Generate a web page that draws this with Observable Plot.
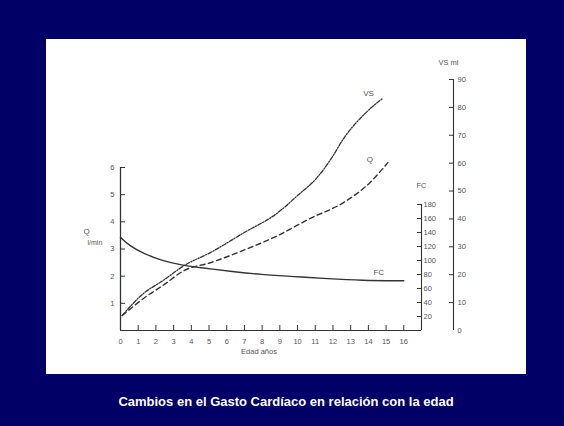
<!DOCTYPE html>
<html>
<head>
<meta charset="utf-8">
<script src="https://cdn.jsdelivr.net/npm/d3@7"></script>
<script src="https://cdn.jsdelivr.net/npm/@observablehq/plot@0.6"></script>
<style>
  html, body { margin: 0; padding: 0; }
  body { width: 564px; height: 426px; background: #000066; position: relative; overflow: hidden; }
  #panel { position: absolute; left: 46px; top: 39px; width: 480px; height: 335px; background: #ffffff; }
  #caption { position: absolute; left: 46px; width: 480px; top: 394px; line-height: 15px; text-align: center;
    color: #ffffff; font: bold 13px "Liberation Sans", Arial, sans-serif; }
</style>
</head>
<body>
<div id="panel"></div>
<div id="caption">Cambios en el Gasto Cardíaco en relación con la edad</div>
<script>
// ---- data ----
const fcAges = [0, 0.5, 1.3, 2.3, 3.5, 4.4, 5.1, 6.4, 7.9, 9.8, 11.7, 13.6, 16];
const fcValues = [133, 121, 110, 100, 93, 90, 88, 84, 80, 77, 74, 71.5, 71];          // lpm
const vsAges = [0.1, 1.3, 2.4, 3.6, 5.1, 6.9, 8.9, 10, 11.1, 11.9, 12.6, 13.7, 14.8];
const vsValues = [5.4, 13.3, 17.9, 23.3, 28, 34.8, 42.3, 48.4, 54.8, 61.6, 68.8, 77.1, 83.2]; // ml
const qAges = [0.1, 1.3, 2.4, 3.6, 5.1, 6.9, 8.9, 10.7, 12.6, 14.1, 15.1];
const qValues = [0.55, 1.18, 1.66, 2.21, 2.5, 2.94, 3.5, 4.12, 4.71, 5.45, 6.18];     // l/min

const xTickValues = d3.range(0, 17);        // 0..16 años
const qTickValues = [1, 2, 3, 4, 5, 6];
const fcTickValues = [20, 40, 60, 80, 100, 120, 140, 160, 180];
const vsTickValues = [0, 10, 20, 30, 40, 50, 60, 70, 80, 90];

const xTitle = "Edad años";
const qTitle = "Q";
const qUnit = "l/min";
const fcTitle = "FC";
const vsTitle = "VS ml";
const seriesLabels = {fc: "FC", vs: "VS", q: "Q"};

// ratio between secondary axes and the Q (l/min) scale
const fcPerQ = 38.8;   // lpm per l/min unit of height
const vsPerQ = 9.74;   // ml per l/min unit of height
const xMax = 17;

const fcData = fcAges.map((a, i) => ({age: a, v: fcValues[i] / fcPerQ}));
const vsData = vsAges.map((a, i) => ({age: a, v: vsValues[i] / vsPerQ}));
const qData = qAges.map((a, i) => ({age: a, v: qValues[i]}));

const ink = "#333333";
const txt = "#555555";
const fs = 7.5;

const chart = Plot.plot({
  width: 480,
  height: 335,
  marginLeft: 74,
  marginRight: 105,
  marginTop: 128,
  marginBottom: 44,
  x: {domain: [0, xMax], axis: null},
  y: {domain: [0, 6], axis: null},
  style: {background: "transparent", fontFamily: "Liberation Sans, Arial, sans-serif", fontSize: fs + "px", color: txt},
  marks: [
    // baseline and left axis line
    Plot.ruleY([0], {stroke: ink, strokeWidth: 1.1}),
    Plot.ruleX([0], {stroke: ink, strokeWidth: 1.3}),
    // FC axis line
    Plot.ruleX([xMax], {y1: 0, y2: d3.max(fcTickValues) / fcPerQ, stroke: ink, strokeWidth: 1.1}),
    // VS axis line
    Plot.ruleX([xMax], {y1: 0, y2: d3.max(vsTickValues) / vsPerQ, stroke: ink, strokeWidth: 1.1, dx: 32}),

    // x axis: labels and upward ticks
    Plot.axisX(xTickValues, {anchor: "bottom", tickSize: 0, tickPadding: 8, label: null, fill: txt, fontSize: fs}),
    Plot.axisX(xTickValues.slice(1), {anchor: "bottom", tickSize: 5, dy: -5, tickFormat: () => "", label: null, stroke: ink}),
    Plot.text([xTitle], {frameAnchor: "bottom", dx: -12, dy: 23, fill: txt, fontSize: fs}),

    // Q axis (left)
    Plot.axisY(qTickValues, {anchor: "left", tickSize: 0, tickPadding: 6, label: null, fill: txt, fontSize: fs}),
    Plot.axisY(qTickValues, {anchor: "left", tickSize: 5, dx: 5, tickFormat: () => "", label: null, stroke: ink}),
    Plot.text([qTitle], {frameAnchor: "left", dx: -37, dy: -18, fill: txt, fontSize: fs + 0.5}),
    Plot.text([qUnit], {frameAnchor: "left", dx: -33, dy: -6, fill: txt, fontSize: fs - 0.5}),

    // FC axis (right, inner)
    Plot.axisY(fcTickValues.map(v => v / fcPerQ), {anchor: "right", tickSize: 0, tickPadding: 2,
      tickFormat: d => Math.round(d * fcPerQ), label: null, fill: txt, fontSize: fs}),
    Plot.axisY(fcTickValues.map(v => v / fcPerQ), {anchor: "right", tickSize: 5, dx: -5,
      tickFormat: () => "", label: null, stroke: ink}),
    Plot.text([fcTitle], {x: xMax, y: d3.max(fcTickValues) / fcPerQ, dy: -19, fill: txt, fontSize: fs}),

    // VS axis (right, outer)
    Plot.axisY(vsTickValues.map(v => v / vsPerQ), {anchor: "right", tickSize: 0, tickPadding: 4, dx: 32,
      tickFormat: d => Math.round(d * vsPerQ), label: null, fill: txt, fontSize: fs}),
    Plot.axisY(vsTickValues.slice(1).map(v => v / vsPerQ), {anchor: "right", tickSize: 5, dx: 27,
      tickFormat: () => "", label: null, stroke: ink}),
    Plot.text([vsTitle], {x: xMax, y: d3.max(vsTickValues) / vsPerQ, dx: 27, dy: -17, fill: txt, fontSize: fs}),

    // curves
    Plot.line(fcData, {x: "age", y: "v", stroke: ink, strokeWidth: 1.4, curve: "basis"}),
    Plot.line(vsData, {x: "age", y: "v", stroke: ink, strokeWidth: 1.3, strokeDasharray: "4,1.5,1.2,1.5", curve: "monotone-x"}),
    Plot.line(qData, {x: "age", y: "v", stroke: ink, strokeWidth: 1.4, strokeDasharray: "5,3.5", curve: "monotone-x"}),

    // curve labels
    Plot.text(fcData.slice(-1), {x: "age", y: "v", text: () => seriesLabels.fc, dx: -25, dy: -8, fill: txt, fontSize: fs + 0.5}),
    Plot.text(vsData.slice(-1), {x: "age", y: "v", text: () => seriesLabels.vs, dx: -14, dy: -5, fill: txt, fontSize: fs + 0.5}),
    Plot.text(qData.slice(-1), {x: "age", y: "v", text: () => seriesLabels.q, dx: -18, dy: -3, fill: txt, fontSize: fs + 0.5})
  ]
});
document.getElementById("panel").appendChild(chart);
</script>
</body>
</html>
